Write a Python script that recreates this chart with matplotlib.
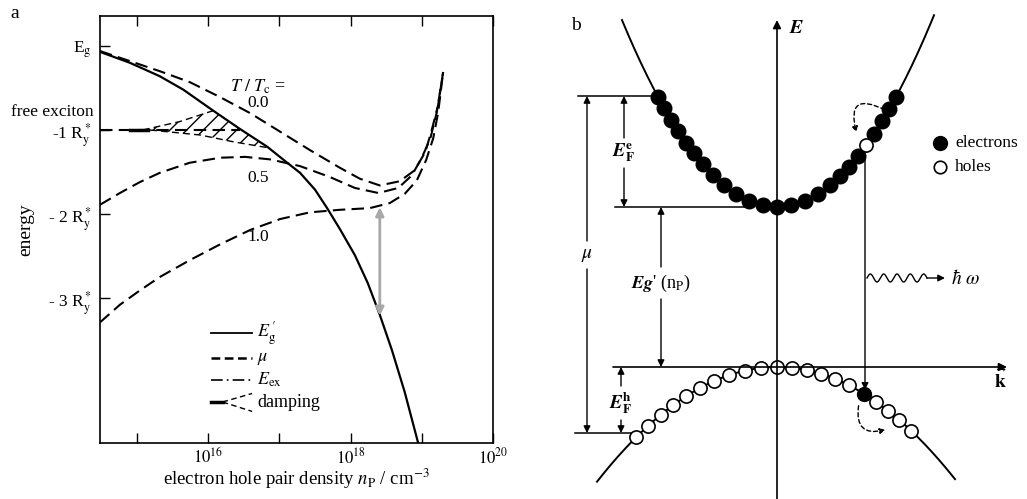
import numpy as np
import matplotlib
matplotlib.use("Agg")
import matplotlib.pyplot as plt
from matplotlib.patches import FancyArrowPatch
from matplotlib.ticker import NullLocator

plt.rcParams["font.family"] = ["Liberation Serif", "DejaVu Serif"]
plt.rcParams["mathtext.fontset"] = "stix"

# ---------- panel a : log10(n_P / cm^-3) and energy in R_y* (E_g = 0) ----------
eg_logn = [14.48, 14.90, 15.32, 15.65, 16.07, 16.45, 16.83, 17.08, 17.29, 17.50,
           17.67, 17.85, 18.06, 18.24, 18.41, 18.58, 18.76, 18.95, 18.98]
eg_E = [-0.07, -0.20, -0.36, -0.52, -0.77, -0.99, -1.20, -1.37, -1.51, -1.71,
        -1.93, -2.18, -2.49, -2.82, -3.20, -3.62, -4.12, -4.73, -4.83]

mu_logn = {
    "0.0": [14.48, 14.90, 15.32, 15.74, 16.17, 16.59, 17.01, 17.43, 17.85, 18.13,
            18.41, 18.69, 18.90, 19.05, 19.14, 19.23, 19.30],
    "0.5": [14.48, 14.76, 15.04, 15.32, 15.74, 16.17, 16.52, 16.87, 17.29, 17.71,
            18.06, 18.39, 18.67, 18.86, 19.00, 19.12, 19.21, 19.30],
    "1.0": [14.48, 14.76, 15.04, 15.32, 15.74, 16.17, 16.59, 17.01, 17.43, 17.85,
            18.27, 18.55, 18.76, 18.93, 19.06, 19.16, 19.23, 19.30],
}
mu_E = {
    "0.0": [-0.06, -0.18, -0.30, -0.43, -0.61, -0.80, -1.02, -1.24, -1.45, -1.58,
            -1.66, -1.61, -1.48, -1.26, -1.00, -0.70, -0.31],
    "0.5": [-1.89, -1.75, -1.62, -1.51, -1.39, -1.33, -1.32, -1.35, -1.43, -1.56,
            -1.69, -1.75, -1.69, -1.54, -1.33, -1.10, -0.79, -0.31],
    "1.0": [-3.29, -3.08, -2.91, -2.75, -2.55, -2.36, -2.19, -2.06, -1.98, -1.95,
            -1.93, -1.87, -1.76, -1.60, -1.36, -1.10, -0.79, -0.31],
}

ex_logn = [14.48, 16.45]
ex_E = [-1.0, -1.0]

damp_up_logn = [15.08, 15.60, 16.07]
damp_up_E = [-1.0, -0.90, -0.77]
damp_lo_logn = [15.18, 15.89, 16.35, 16.83]
damp_lo_E = [-1.0, -1.06, -1.14, -1.21]

gap_logn = 18.41
gap_E = [-1.92, -3.21]

ytick_E = [0, -1, -2, -3]
ytick_lab = [r"E$_\mathrm{g}$", r"-1 R$_\mathrm{y}^*$", r"- 2 R$_\mathrm{y}^*$", r"- 3 R$_\mathrm{y}^*$"]
xtick_exp = [15, 16, 17, 18, 19, 20]

# ---------- panel b : k and E in schematic units (valence top = 0) ----------
cond_E0, cond_c = 160.0, 0.00778
val_c = 0.00354
cond_k = [-119, -113, -106, -99, -91, -83, -74, -64, -53, -41, -28, -14, 0,
          14, 28, 41, 53, 63, 72, 81, 97, 105, 112, 119]
hole_k = 89
val_k = [-141, -129, -116, -104, -91, -77, -63, -48, -32, -16, 0,
         15, 30, 44, 58, 72, 99, 111, 122, 134]
elec_k = 87
E_Fe, E_Fh = 271, -66

fig = plt.figure(figsize=(10.27, 4.99), dpi=100)

# ===================== panel a =====================
ax = fig.add_axes([100 / 1027, 56 / 499, 393 / 1027, 427 / 499])
ax.set_xscale("log")
ax.set_xlim(10 ** 14.48, 1e20)
ax.set_ylim(-4.726, 0.357)

dash = dict(color="k", lw=1.5, dashes=(6, 3))
ax.plot(10 ** np.array(eg_logn), eg_E, color="k", lw=1.6)
for key in mu_logn:
    ax.plot(10 ** np.array(mu_logn[key]), mu_E[key], **dash)
ax.plot(10 ** np.array(ex_logn), ex_E, **dash)
ax.plot(10 ** np.array([14.9, 15.15]), [-1, -1], color="k", lw=2.5)

# damping fan with hatch, closed along the E_g' curve
eg_l = np.array(eg_logn)
mid = (eg_l > damp_up_logn[-1]) & (eg_l < damp_lo_logn[-1])
poly_x = np.concatenate([damp_up_logn, eg_l[mid], damp_lo_logn[::-1]])
poly_y = np.concatenate([damp_up_E, np.array(eg_E)[mid], damp_lo_E[::-1]])
ax.fill(10 ** poly_x, poly_y, fill=False, hatch="//", lw=0, edgecolor="k")
ax.plot(10 ** np.array(damp_up_logn), damp_up_E, color="k", lw=1.0, dashes=(5, 3))
ax.plot(10 ** np.array(damp_lo_logn), damp_lo_E, color="k", lw=1.0, dashes=(5, 3))

ax.annotate("", xy=(10 ** gap_logn, gap_E[0]), xytext=(10 ** gap_logn, gap_E[1]),
            arrowprops=dict(arrowstyle="<|-|>", color="#a8a8a8", lw=2,
                            mutation_scale=12, shrinkA=0, shrinkB=0))

ax.text(10 ** 16.7, -0.48, r"$T\ /\ T_\mathrm{c}$ =", fontsize=13, ha="center", va="center")
ax.text(10 ** 16.7, -0.68, "0.0", fontsize=12.5, ha="center", va="center")
ax.text(10 ** 16.7, -1.57, "0.5", fontsize=12.5, ha="center", va="center")
ax.text(10 ** 16.7, -2.27, "1.0", fontsize=12.5, ha="center", va="center")

ax.set_xticks([10.0 ** e for e in xtick_exp])
ax.set_xticklabels(["", r"$10^{16}$", "", r"$10^{18}$", "", r"$10^{20}$"], fontsize=12)
ax.xaxis.set_minor_locator(NullLocator())
ax.set_yticks(ytick_E)
ax.set_yticklabels(ytick_lab, fontsize=12.5)
ax.tick_params(direction="in", top=True, length=7, width=1, pad=6)
ax.tick_params(axis="x", pad=3)
ax.text(-0.015, -0.79, "free exciton", transform=ax.get_yaxis_transform(),
        ha="right", va="center", fontsize=12.5)
ax.set_ylabel("energy", fontsize=14, labelpad=10)
ax.set_xlabel(r"electron hole pair density $n_\mathrm{P}$ / cm$^{-3}$", fontsize=13.5, labelpad=0)
for s in ax.spines.values():
    s.set_linewidth(1.2)

# legend drawn by hand
lx0, lx1, ltx = 0.282, 0.387, 0.40
rows = [0.258, 0.199, 0.148, 0.096]
tr = ax.transAxes
ax.plot([lx0, lx1], [rows[0]] * 2, color="k", lw=1.3, transform=tr)
ax.plot([lx0, lx1], [rows[1]] * 2, color="k", lw=1.8, dashes=(3.5, 1.8), transform=tr)
ax.plot([lx0, lx1], [rows[2]] * 2, color="k", lw=1.2, dashes=(7, 2.5, 1, 2.5), transform=tr)
ax.plot([lx0, lx0 + 0.03], [rows[3]] * 2, color="k", lw=2.5, transform=tr)
ax.plot([lx0 + 0.03, lx1], [rows[3], rows[3] + 0.02], color="k", lw=1, dashes=(4, 2.5), transform=tr)
ax.plot([lx0 + 0.03, lx1], [rows[3], rows[3] - 0.022], color="k", lw=1, dashes=(4, 2.5), transform=tr)
leg_lab = [r"$E_\mathrm{g}^{\,\prime}$", r"$\mu$", r"$E_\mathrm{ex}$", "damping"]
for r, t in zip(rows, leg_lab):
    ax.text(ltx, r, t, transform=tr, va="center", ha="left", fontsize=13)

fig.text(10 / 1027, 1 - 14 / 499, "a", fontsize=14, va="center")

# ===================== panel b =====================
bx = fig.add_axes([500 / 1027, 0, 527 / 1027, 1])
bx.set_xlim(-277, 250)
bx.set_ylim(-132, 367)
bx.axis("off")

kc = np.linspace(-155, 157, 200)
bx.plot(kc, cond_E0 + cond_c * kc ** 2, color="k", lw=1.4)
kv = np.linspace(-180, 178, 200)
bx.plot(kv, -val_c * kv ** 2, color="k", lw=1.4)

ck = np.array(cond_k)
bx.plot(ck, cond_E0 + cond_c * ck ** 2, "o", ms=10.5, mfc="k", mec="k", zorder=3)
bx.plot([hole_k], [cond_E0 + cond_c * hole_k ** 2], "o", ms=9.5, mfc="w", mec="k", mew=1.2, zorder=4)
vk = np.array(val_k)
bx.plot(vk, -val_c * vk ** 2, "o", ms=9.5, mfc="w", mec="k", mew=1.2, zorder=3)
bx.plot([elec_k], [-val_c * elec_k ** 2], "o", ms=10, mfc="k", mec="k", zorder=4)

# axes
arr = dict(arrowstyle="-|>", color="k", lw=1.2, mutation_scale=12, shrinkA=0, shrinkB=0)
bx.annotate("", xy=(0, 347), xytext=(0, -132), arrowprops=arr)
bx.annotate("", xy=(230, 0), xytext=(-164, 0), arrowprops=arr)
bx.text(12, 339, r"$\mathbfit{E}$", fontsize=14, va="center", ha="left")
bx.text(224, -13, r"$\vec{\mathbf{k}}$", fontsize=14, va="center", ha="center")

# level lines
lev = dict(color="k", lw=1.1)
bx.plot([-199, -119], [E_Fe, E_Fe], **lev)
bx.plot([-162, -32], [cond_E0, cond_E0], **lev)
bx.plot([-202, -144], [E_Fh, E_Fh], **lev)

small = dict(arrowstyle="-|>", color="k", lw=1.0, mutation_scale=10, shrinkA=0, shrinkB=0)


def vdim(k, e_top, e_bot, e_lab, gap, label, fs=13.5):
    bx.annotate("", xy=(k, e_top), xytext=(k, e_lab + gap), arrowprops=small)
    bx.annotate("", xy=(k, e_bot), xytext=(k, e_lab - gap), arrowprops=small)
    bx.text(k, e_lab, label, ha="center", va="center", fontsize=fs)


vdim(-190, E_Fe, E_Fh, 112, 14, r"$\mu$", 14)
vdim(-153, E_Fe, cond_E0, 214, 15, r"$\mathbfit{E}_\mathbf{F}^\mathbf{e}$")
vdim(-116, cond_E0, 0, 84, 16, r"$\mathbfit{Eg}$' (n$_\mathrm{P}$)", 13)
vdim(-156, 0, E_Fh, -36, 17, r"$\mathbfit{E}_\mathbf{F}^\mathbf{h}$")

# vertical recombination
bx.annotate("", xy=(hole_k - 1, -val_c * elec_k ** 2 + 4),
            xytext=(hole_k - 1, cond_E0 + cond_c * hole_k ** 2 - 6), arrowprops=small)

# photon
wk = np.linspace(90, 150, 200)
bx.plot(wk, 89 + 4 * np.sin((wk - 90) / 60 * 2 * np.pi * 4.5), color="k", lw=1.0)
bx.annotate("", xy=(168, 89), xytext=(150, 89), arrowprops=small)
bx.text(174, 89, r"$\hbar\ \omega$", fontsize=14, va="center", ha="left", weight="bold")

# scattering arcs
bx.add_patch(FancyArrowPatch((110, 256), (80, 232), connectionstyle="arc3,rad=1.15",
                             arrowstyle="-|>", mutation_scale=8, lw=1.0, ls=(0, (3, 2)), color="k"))
bx.add_patch(FancyArrowPatch((82, -36), (111, -62), connectionstyle="arc3,rad=0.8",
                             arrowstyle="-|>", mutation_scale=8, lw=1.0, ls=(0, (3, 2)), color="k"))

# legend
bx.plot([163], [224], "o", ms=10, mfc="k", mec="k")
bx.plot([163], [200], "o", ms=9, mfc="w", mec="k", mew=1.2)
bx.text(178, 224, "electrons", fontsize=12.5, va="center")
bx.text(178, 200, "holes", fontsize=12.5, va="center")

fig.text(576 / 1027, 1 - 25 / 499, "b", fontsize=14, va="center", ha="center")

fig.savefig("out.png", dpi=100)
